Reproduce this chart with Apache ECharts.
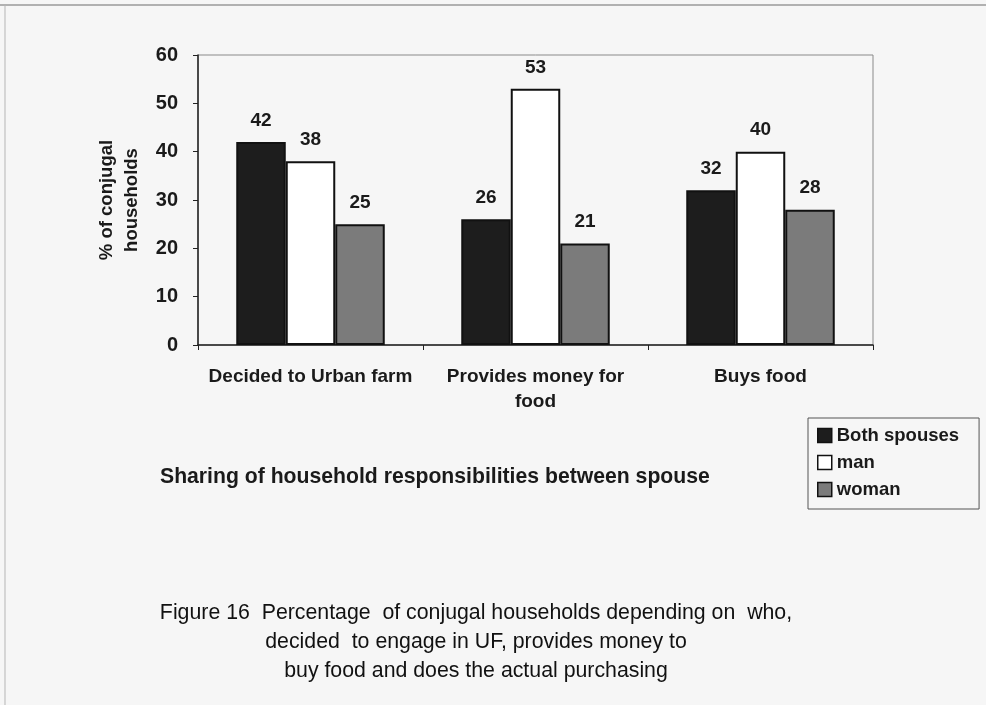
<!DOCTYPE html>
<html>
<head>
<meta charset="utf-8">
<script src="https://cdn.jsdelivr.net/npm/echarts@6/dist/echarts.min.js"></script>
<style>
html,body{margin:0;padding:0;background:#f6f6f6;}
#chart{width:986px;height:705px;}
</style>
</head>
<body>
<div id="chart"></div>
<script>
var categories = ['Decided to Urban farm', 'Provides money for\nfood', 'Buys food'];
var seriesNames = ['Both spouses', 'man', 'woman'];
var bothSpouses = [42, 26, 32];
var man = [38, 53, 40];
var woman = [25, 21, 28];
var yTicks = {min: 0, max: 60, interval: 10};
var yAxisTitle = '% of conjugal\nhouseholds';
var xAxisTitle = 'Sharing of household responsibilities between spouse';
var caption = 'Figure 16  Percentage  of conjugal households depending on  who,\ndecided  to engage in UF, provides money to\nbuy food and does the actual purchasing';

var FONT = '"Liberation Sans", Arial, sans-serif';
var colors = ['#1d1d1d', '#ffffff', '#7b7b7b'];
var values = [bothSpouses, man, woman];

var chart = echarts.init(document.getElementById('chart'));
var series = seriesNames.map(function (n, i) {
  return {
    name: n,
    type: 'bar',
    data: values[i],
    barGap: '0%',
    barCategoryGap: '34%',
    itemStyle: {color: colors[i], borderColor: '#111', borderWidth: 2},
    label: {
      show: true, position: 'top', distance: 12,
      fontFamily: FONT, fontSize: 19, fontWeight: 'bold', color: '#1a1a1a'
    }
  };
});

chart.setOption({
  backgroundColor: '#f6f6f6',
  animation: false,
  textStyle: {fontFamily: FONT},
  grid: {left: 198, top: 55, width: 675, height: 290, show: true, borderColor: '#8a8a8a', borderWidth: 1, backgroundColor: 'transparent'},
  title: [
    {
      text: xAxisTitle, left: 155, top: 462,
      textStyle: {fontFamily: FONT, fontSize: 21.2, fontWeight: 'bold', color: '#1a1a1a'}
    },
    {
      text: caption, left: 471, top: 594, textAlign: 'center',
      textStyle: {fontFamily: FONT, fontSize: 21.3, fontWeight: 'normal', color: '#111', lineHeight: 29, align: 'center'}
    }
  ],
  legend: {
    orient: 'vertical', left: 808, top: 418,
    data: seriesNames,
    icon: 'rect', itemWidth: 14, itemHeight: 14, itemGap: 8,
    padding: [8, 20, 10, 9],
    borderColor: '#555', borderWidth: 1,
    textStyle: {fontFamily: FONT, fontSize: 18.5, fontWeight: 'bold', color: '#1a1a1a'},
    itemStyle: {borderColor: '#111', borderWidth: 1.5}
  },
  xAxis: {
    type: 'category', data: categories,
    axisLine: {lineStyle: {color: '#222', width: 1.5}},
    axisTick: {show: true, length: 5, lineStyle: {color: '#222'}},
    axisLabel: {fontFamily: FONT, fontSize: 19, fontWeight: 'bold', color: '#1a1a1a', margin: 19, lineHeight: 25, interval: 0}
  },
  yAxis: {
    type: 'value', min: yTicks.min, max: yTicks.max, interval: yTicks.interval,
    name: yAxisTitle, nameLocation: 'middle', nameGap: 52, nameRotate: 90,
    nameTextStyle: {fontFamily: FONT, fontSize: 18.5, fontWeight: 'bold', color: '#1a1a1a', lineHeight: 25, align: 'center'},
    axisLine: {show: true, lineStyle: {color: '#222', width: 1.5}},
    axisTick: {show: true, length: 5, lineStyle: {color: '#222'}},
    axisLabel: {fontFamily: FONT, fontSize: 20, fontWeight: 'bold', color: '#1a1a1a', margin: 20},
    splitLine: {show: false}
  },
  graphic: [
    {type: 'line', shape: {x1: 0, y1: 5, x2: 986, y2: 5}, style: {stroke: '#9a9a9a', lineWidth: 1.5}},
    {type: 'line', shape: {x1: 5, y1: 5, x2: 5, y2: 705}, style: {stroke: '#b5b5b5', lineWidth: 1}}
  ],
  series: series
});
</script>
</body>
</html>
